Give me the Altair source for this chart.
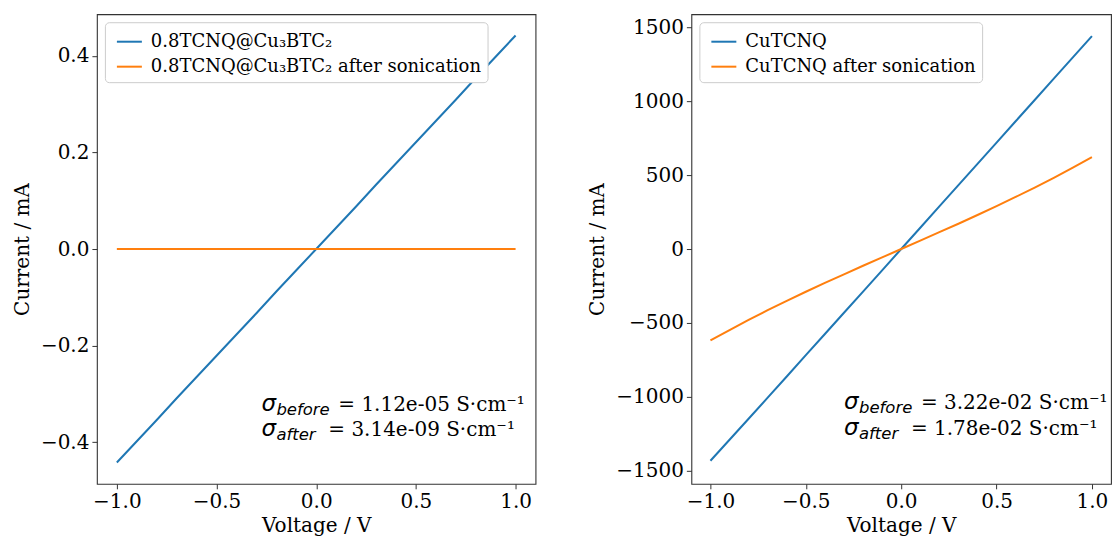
import altair as alt
import pandas as pd

# ---------------- data ----------------
voltage = [-1.0, -0.9, -0.8, -0.7, -0.6, -0.5, -0.4, -0.3, -0.2, -0.1, 0.0,
           0.1, 0.2, 0.3, 0.4, 0.5, 0.6, 0.7, 0.8, 0.9, 1.0]

left_before = [-0.442, -0.398, -0.354, -0.309, -0.265, -0.221, -0.177, -0.133, -0.088, -0.044, 0.0,
               0.044, 0.088, 0.133, 0.177, 0.221, 0.265, 0.309, 0.354, 0.398, 0.442]
left_after = [0.0, 0.0, 0.0, 0.0, 0.0, 0.0, 0.0, 0.0, 0.0, 0.0, 0.0,
              0.0, 0.0, 0.0, 0.0, 0.0, 0.0, 0.0, 0.0, 0.0, 0.0]

right_before = [-1432, -1290, -1148, -1005, -862, -718, -575, -431, -288, -144, 0,
                144, 288, 432, 576, 720, 864, 1008, 1152, 1296, 1440]
right_after = [-618, -548, -480, -414, -351, -289, -229, -171, -113, -57, 0,
               57, 114, 171, 230, 290, 352, 415, 481, 550, 621]

left_names = ["0.8TCNQ@Cu\u2083BTC\u2082", "0.8TCNQ@Cu\u2083BTC\u2082 after sonication"]
right_names = ["CuTCNQ", "CuTCNQ after sonication"]
colors = ["#1f77b4", "#ff7f0e"]

x_ticks = [-1.0, -0.5, 0.0, 0.5, 1.0]
left_y_ticks = [-0.4, -0.2, 0.0, 0.2, 0.4]
right_y_ticks = [-1500, -1000, -500, 0, 500, 1000, 1500]

left_ann = ["1.12e-05", "3.14e-09"]
right_ann = ["3.22e-02", "1.78e-02"]

SERIF = "DejaVu Serif"
SANS = "DejaVu Sans"
FS = 20


def long_df(before, after, names):
    rows = []
    for i, (v, b) in enumerate(zip(voltage, before)):
        rows.append({"voltage": v, "current": b, "series": names[0], "idx": i})
    for i, (v, a) in enumerate(zip(voltage, after)):
        rows.append({"voltage": v, "current": a, "series": names[1], "idx": i})
    return pd.DataFrame(rows)


def panel(df, names, ydom, yticks, yfmt, ann, ann_x, ann_y1, ann_y2, width):
    xscale = alt.Scale(domain=[-1.1, 1.1], nice=False, zero=False)
    yscale = alt.Scale(domain=ydom, nice=False, zero=False)
    lines = alt.Chart(df).mark_line(strokeWidth=2).encode(
        x=alt.X("voltage:Q", scale=xscale,
                axis=alt.Axis(values=x_ticks, format=".1f", title="Voltage / V",
                              labelPadding=3, titlePadding=4)),
        y=alt.Y("current:Q", scale=yscale,
                axis=alt.Axis(values=yticks, format=yfmt, title="Current / mA")),
        color=alt.Color("series:N",
                        scale=alt.Scale(domain=names, range=colors),
                        legend=alt.Legend(title=None, orient="top-left")),
        order="idx:Q",
    )
    ann_df = pd.DataFrame({
        "x": [ann_x, ann_x],
        "y": [ann_y1, ann_y2],
        "sub": ["before", "after"],
        "rest": ["= " + ann[0] + " S\u00b7cm\u207b\u00b9", "= " + ann[1] + " S\u00b7cm\u207b\u00b9"],
    })
    enc = dict(x=alt.X("x:Q", scale=xscale), y=alt.Y("y:Q", scale=yscale))
    sigma = alt.Chart(ann_df).mark_text(
        text="\u03c3", font=SANS, fontSize=23, fontStyle="italic",
        align="left", baseline="alphabetic", color="black").encode(**enc)
    sub_b = alt.Chart(ann_df.iloc[[0]]).mark_text(
        font=SANS, fontSize=16.5, fontStyle="italic", align="left",
        baseline="alphabetic", dx=15, dy=4, color="black").encode(text="sub:N", **enc)
    sub_a = alt.Chart(ann_df.iloc[[1]]).mark_text(
        font=SANS, fontSize=16.5, fontStyle="italic", align="left",
        baseline="alphabetic", dx=15, dy=4, color="black").encode(text="sub:N", **enc)
    rest_b = alt.Chart(ann_df.iloc[[0]]).mark_text(
        font=SERIF, fontSize=FS, align="left", baseline="alphabetic",
        dx=77, color="black").encode(text="rest:N", **enc)
    rest_a = alt.Chart(ann_df.iloc[[1]]).mark_text(
        font=SERIF, fontSize=FS, align="left", baseline="alphabetic",
        dx=67, color="black").encode(text="rest:N", **enc)
    return alt.layer(lines, sigma, sub_b, sub_a, rest_b, rest_a).properties(
        width=width, height=470)


left = panel(long_df(left_before, left_after, left_names), left_names,
             [-0.486, 0.486], left_y_ticks, ".1f", left_ann,
             -0.275, -0.335, -0.387, 439)
right = panel(long_df(right_before, right_after, right_names), right_names,
              [-1588, 1588], right_y_ticks, "d", right_ann,
              -0.30, -1085, -1255, 420)

chart = alt.hconcat(left, right, spacing=50).resolve_scale(
    color="independent").properties(
    padding={"left": 11, "top": 13, "right": 3, "bottom": 0}
).configure_view(
    stroke="#333333", strokeWidth=1.1
).configure_axis(
    labelFont=SERIF, labelFontSize=FS, labelColor="black",
    titleFont=SERIF, titleFontSize=FS, titleColor="black", titleFontWeight="normal",
    grid=False, domain=False, ticks=True, tickColor="#333333", tickSize=5,
    labelPadding=3, titlePadding=8,
).configure_legend(
    labelFont=SERIF, labelFontSize=18, labelColor="black",
    symbolType="stroke", symbolSize=625, symbolStrokeWidth=2,
    strokeColor="#cccccc", fillColor="white", cornerRadius=4,
    padding=6, offset=8, rowPadding=2, labelLimit=500,
    symbolOffset=5, labelOffset=8,
)

chart.save("out.html", embed_options={"renderer": "svg", "actions": False})
